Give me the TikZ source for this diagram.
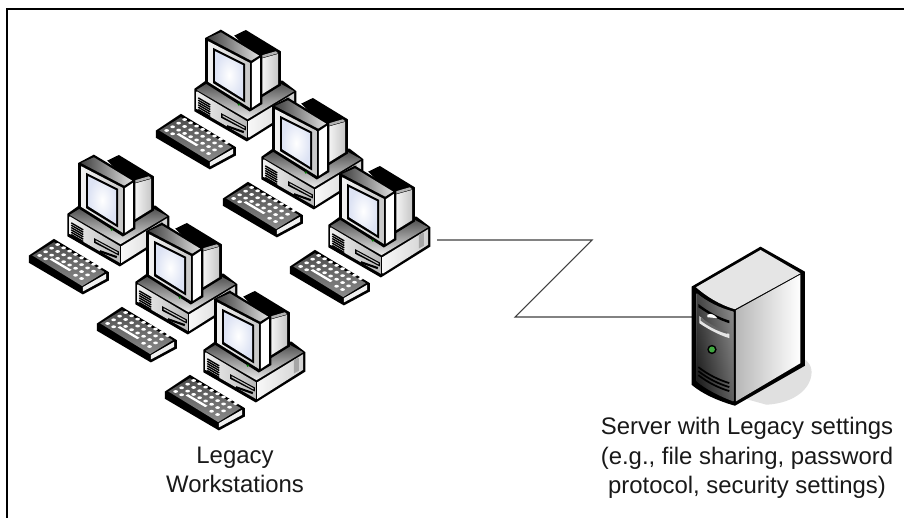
\documentclass[tikz,border=0pt]{standalone}
\usepackage{fontspec}
\setmainfont{Liberation Sans}
\usetikzlibrary{shadings}
\definecolor{screenblue}{HTML}{DDE3F4}
\tikzset{
  wire/.style={draw=black!75,line width=0.3pt},
  lbl/.style={font=\fontsize{6.8pt}{8.45pt}\selectfont,align=center,text=black!90},
}
% computer drawn in zoom units (1/3 px), origin at pixel (280,150)
\newcommand{\pcunit}[2]{%
\begin{scope}[shift={(280+#1,150+#2)},x=0.003333cm,y=-0.003333cm]
  % keyboard
  \fill[black] (30,350)--(105,300)--(270,400)--(270,425)--(192,467)--(30,372)--cycle;
  \shade[top color=black!70,bottom color=black!45] (40,350)--(105,310)--(258,400)--(190,442)--cycle;
  \fill[black!6] (192,445)--(262,405)--(262,420)--(192,458)--cycle;
  \foreach \r in {1,...,3}{\foreach \c in {0,...,7}{
    \fill[white] ({62+\r*18+\c*18},{350-\r*11+\c*9.9}) ellipse[x radius=7,y radius=4.2];}}
  \foreach \c in {0,1}{\fill[white] ({62+\c*18},{350+\c*9.9}) ellipse[x radius=7,y radius=4.2];}
  \foreach \c in {6,7}{\fill[white] ({62+\c*18},{350+\c*9.9}) ellipse[x radius=7,y radius=4.2];}
  \fill[white] (92,362)--(99,358)--(158,393)--(151,397)--cycle;
  % base
  \fill[black] (145,225)--(180,200)--(410,200)--(452,232)--(452,290)--(303,383)--(145,292)--cycle;
  \shade[left color=black!6,right color=black!28] (152,232)--(303,322)--(303,372)--(152,285)--cycle;
  \shade[left color=black!3,right color=black!18] (308,322)--(445,238)--(445,285)--(308,372)--cycle;
  \shade[top color=black!70,bottom color=black!8] (152,228)--(190,205)--(405,210)--(445,232)--(305,316)--cycle;
  % vents and slots
  \foreach \i in {0,...,5}{\draw[black,line width=.4pt] (157,{252+\i*7})--(193,{273+\i*7});}
  \fill[black] (226,298)--(300,338)--(300,350)--(226,312)--cycle;
  \fill[black!25] (230,304)--(296,340)--(296,344)--(230,308)--cycle;
  \draw[black,line width=.6pt] (243,337)--(294,355);
  \fill[black!35] (417,255)--(432,248)--(432,288)--(417,296)--cycle;
  % monitor rear
  \fill[black] (265,65)--(300,48)--(405,112)--(405,215)--(345,252)--(330,130)--cycle;
  \shade[left color=black!4,right color=black!22] (347,134)--(397,120)--(397,211)--(347,242)--cycle;
  \fill[black!30] (345,125)--(390,112)--(397,118)--(347,132)--cycle;
  % monitor frame
  \fill[black] (178,72)--(225,47)--(350,122)--(350,270)--(312,293)--(178,208)--cycle;
  \shade[left color=black!75,right color=black!12] (186,72)--(225,55)--(340,125)--(316,140)--cycle;
  \shade[left color=black!5,right color=black!22] (187,82)--(312,147)--(312,282)--(187,204)--cycle;
  \fill[white] (318,148)--(342,132)--(342,266)--(318,282)--cycle;
  \fill[black] (202,102)--(298,150)--(298,266)--(202,208)--cycle;
  \shade[inner color=white,outer color=screenblue] (208,112)--(292,154)--(292,255)--(208,202)--cycle;
  \fill[green!45!black] (279,272) circle[radius=4];
\end{scope}}
\begin{document}
\begin{tikzpicture}[x=0.01cm,y=-0.01cm]
\useasboundingbox (0,0) rectangle (904,518);
\fill[white] (0,0) rectangle (904,518);
\draw[black,line width=0.6pt] (904,9)--(7,9)--(7,518);
% connector
\coordinate (wsport) at (437,240);
\coordinate (bendA) at (592,240);
\coordinate (bendB) at (515,317);
\coordinate (srvport) at (692,317);
\draw[wire] (wsport)--(bendA)--(bendB)--(srvport);
% workstations (back to front)
\pcunit{-134}{-136}
\pcunit{-67}{-68}
\pcunit{0}{0}
\pcunit{-261}{-11}
\pcunit{-193}{57}
\pcunit{-125}{125}
% server
\begin{scope}[shift={(670,230)},x=0.003333cm,y=-0.003333cm]
  \fill[black!12] (290,525) .. controls (380,520) and (430,470) .. (425,420) .. controls (420,395) and (405,385) .. (380,380)--(200,500)--cycle;
  \fill[black] (65,170)--(272,50)--(405,125)--(405,408)--(195,528) .. controls (150,515) and (100,495) .. (65,465)--cycle;
  \fill[black!10] (78,172)--(272,60)--(392,130)--(195,238) .. controls (150,225) and (110,200) .. (78,172)--cycle;
  \shade[shading angle=30,left color=black!28,right color=white] (198,241)--(392,134)--(392,400)--(198,515)--cycle;
  \shade[top color=black!55,bottom color=black!95] (80,190) .. controls (110,215) and (150,235) .. (190,245)--(190,515) .. controls (150,500) and (110,480) .. (80,455)--cycle;
  \shade[left color=black!90,right color=black!30,opacity=.5] (80,190) .. controls (110,215) and (150,235) .. (190,245)--(190,515) .. controls (150,500) and (110,480) .. (80,455)--cycle;
  \fill[black] (85,222) .. controls (115,245) and (145,262) .. (178,272)--(178,280) .. controls (145,270) and (115,252) .. (85,232)--cycle;
  \fill[white] (112,255) .. controls (122,248) and (135,255) .. (142,265)--(112,262)--cycle;
  \fill[black!10] (88,258) .. controls (115,285) and (145,305) .. (178,312)--(178,325) .. controls (145,315) and (110,295) .. (88,280)--cycle;
  \fill[black!60] (92,262) .. controls (115,280) and (145,298) .. (172,306)--(172,312) .. controls (145,305) and (115,290) .. (92,272)--cycle;
  \fill[black] (126,359) circle[radius=14];
  \fill[green!55!black!75] (126,359) circle[radius=9];
  \foreach \d in {0,12,24}{\draw[black,line width=.5pt] (85,{412+\d}) .. controls (115,{435+\d}) and (145,{450+\d}) .. (178,{460+\d});}
\end{scope}
% labels
\node[lbl] (wslabel) at (235,470) {Legacy\\Workstations};
\node[lbl] (srvlabel) at (747,458) {Server with Legacy settings\\(e.g., file sharing, password\\protocol, security settings)};
\end{tikzpicture}
\end{document}
